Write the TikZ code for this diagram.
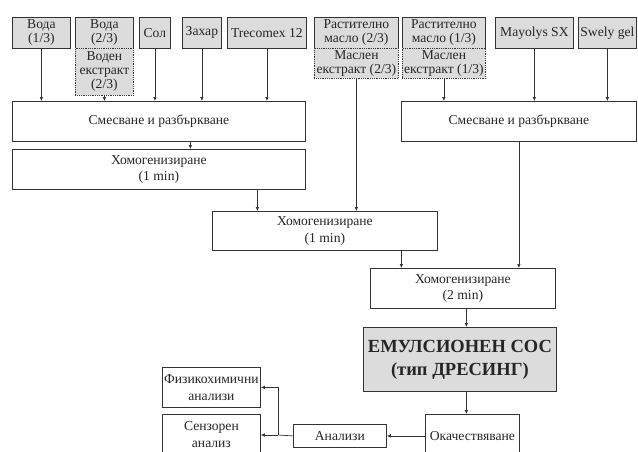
\documentclass[tikz,border=0pt]{standalone}
\usepackage{fontspec}
\setmainfont{Liberation Serif}
\usetikzlibrary{arrows.meta,calc}

\definecolor{boxgray}{HTML}{DCDCDC}
\definecolor{edge}{HTML}{333333}

\tikzset{
  x=1pt, y=-1pt,
  base/.style={draw=edge, line width=0.8pt, anchor=north west, inner sep=0.5pt,
    align=center, font=\fontsize{13.6}{14}\selectfont, text=black!85},
  ingr/.style={base, fill=boxgray},
  extr/.style={base, fill=boxgray, densely dotted},
  proc/.style={base, fill=white, font=\fontsize{13.6}{16.5}\selectfont},
  final/.style={base, fill=boxgray, font=\fontsize{18.5}{23}\selectfont\bfseries},
  arr/.style={draw=edge, line width=0.7pt, -{Latex[length=4pt,width=3.6pt]}},
  ln/.style={draw=edge, line width=0.7pt},
}

\begin{document}
\begin{tikzpicture}
\useasboundingbox (0,0) rectangle (638,451);
\clip (0,0) rectangle (638,451);

% ingredient boxes
\node[ingr, minimum width=58, minimum height=31] (w1) at (12,17) {Вода\\(1/3)};
\node[ingr, minimum width=58, minimum height=31] (w2) at (75,17) {Вода\\(2/3)};
\node[extr, minimum width=58, minimum height=47] (w2e) at (75,48) {Воден\\екстракт\\(2/3)};
\node[ingr, minimum width=31, minimum height=31] (sol) at (139,17) {Сол};
\node[ingr, minimum width=39, minimum height=31] (zah) at (182,17) {Захар};
\node[ingr, minimum width=79, minimum height=31] (tre) at (227,17) {Trecomex 12};
\node[ingr, minimum width=84, minimum height=31] (o1) at (314,17) {Растително\\масло (2/3)};
\node[extr, minimum width=84, minimum height=30] (o1e) at (314,48) {Маслен\\екстракт (2/3)};
\node[ingr, minimum width=83, minimum height=31] (o2) at (402,17) {Растително\\масло (1/3)};
\node[extr, minimum width=83, minimum height=30] (o2e) at (402,48) {Маслен\\екстракт (1/3)};
\node[ingr, minimum width=78, minimum height=31] (may) at (495,17) {Mayolys SX};
\node[ingr, minimum width=58, minimum height=31] (swe) at (578,17) {Swely gel};

% process boxes
\node[proc, minimum width=293, minimum height=40] (mixL) at (12,101) {Смесване и разбъркване};
\node[proc, minimum width=235, minimum height=40] (mixR) at (401,101) {Смесване и разбъркване};
\node[proc, minimum width=293, minimum height=40] (homL) at (12,149) {Хомогенизиране\\(1 min)};
\node[proc, minimum width=225, minimum height=39] (homM) at (212,211) {Хомогенизиране\\(1 min)};
\node[proc, minimum width=185, minimum height=40] (hom2) at (370,268) {Хомогенизиране\\(2 min)};
\node[final, minimum width=193, minimum height=64] (emu) at (363,327) {ЕМУЛСИОНЕН СОС\\(тип ДРЕСИНГ)};
\node[proc, minimum width=94, minimum height=44] (kach) at (425,414) {Окачествяване};
\node[proc, minimum width=93, minimum height=23] (anal) at (293,424) {Анализи};
\node[proc, minimum width=98, minimum height=40] (fiz) at (162,367) {Физикохимични\\анализи};
\node[proc, minimum width=98, minimum height=40] (sens) at (162,414) {Сензорен\\анализ};

% feeds into the first mixing
\foreach \n in {w1,w2e,sol,zah,tre}
  \draw[arr] (\n.south) -- (\n.south |- mixL.north);
% feeds into the second mixing
\foreach \n in {o2e,may,swe}
  \draw[arr] (\n.south) -- (\n.south |- mixR.north);
\draw[arr] (o1e.south) -- (o1e.south |- homM.north);

% process chain
\draw[arr] ([xshift=31.5]mixL.south) -- ([xshift=31.5]mixL.south |- homL.north);
\draw[arr] ([xshift=98.5]homL.south) -- ([xshift=98.5]homL.south |- homM.north);
\draw[arr] ([xshift=76.5]homM.south) -- ([xshift=76.5]homM.south |- hom2.north);
\draw[arr] (mixR.south) -- (mixR.south |- hom2.north);
\draw[arr] ([xshift=3.5]hom2.south) -- ([xshift=3.5]hom2.south |- emu.north);
\draw[arr] ([xshift=3.5]hom2.south |- emu.south) -- ([xshift=3.5]hom2.south |- kach.north);

% analyses
\coordinate (br) at (278,435);
\draw[arr] (kach.west |- anal.east) -- (anal.east);
\draw[ln] (anal.west) -- (br);
\draw[arr] (br) -- (sens.east |- br);
\draw[arr] (br) |- (fiz.east);
\end{tikzpicture}
\end{document}
